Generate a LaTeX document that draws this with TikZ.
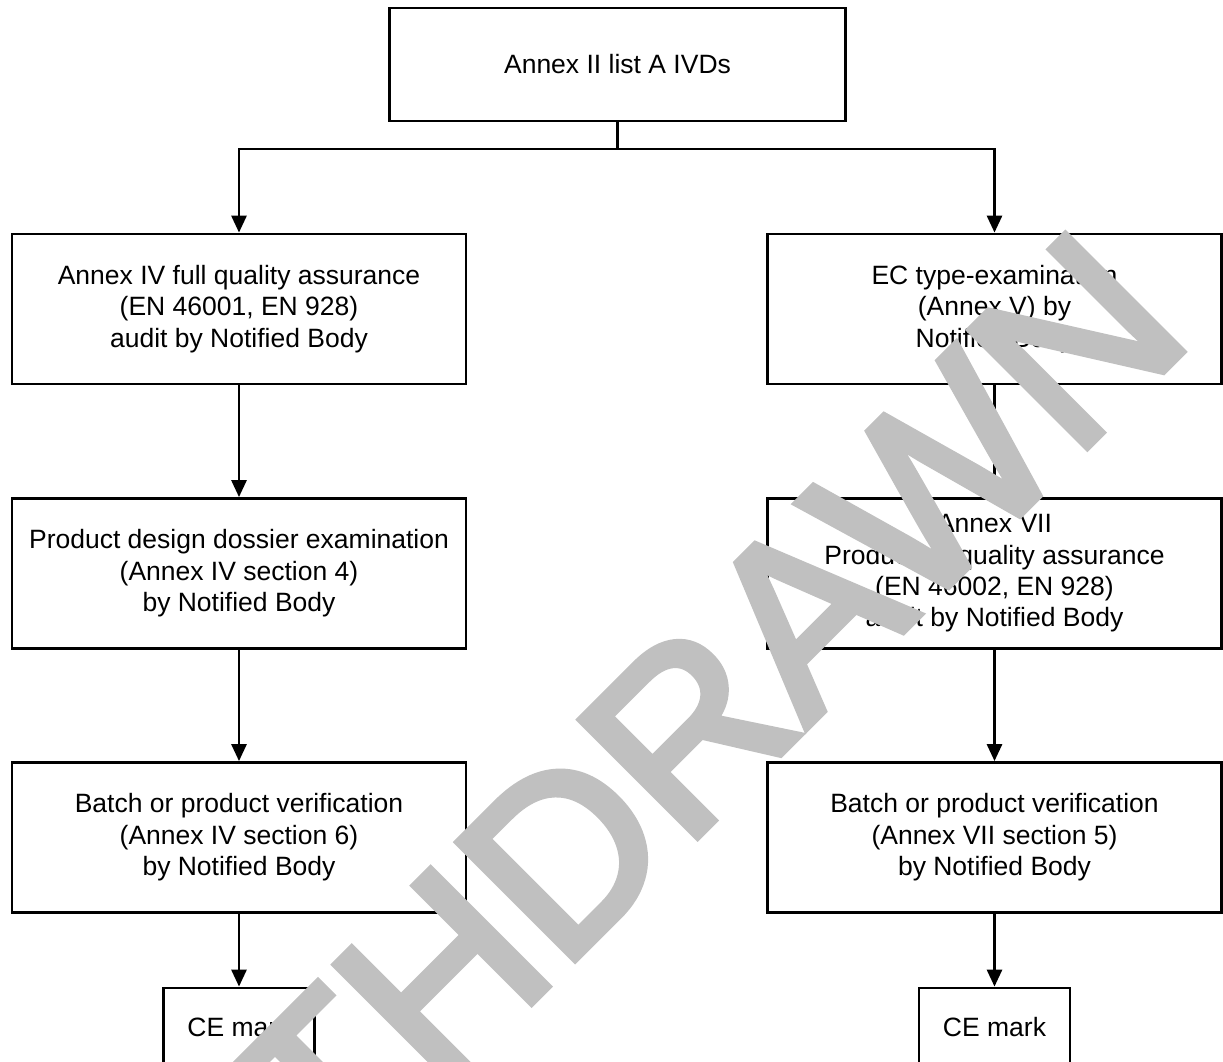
\documentclass[tikz,border=0pt]{standalone}
\usepackage{fontspec}
\setmainfont{Liberation Sans}
\newfontfamily\wmfont[FakeBold=3.3]{Liberation Sans}
\usetikzlibrary{arrows.meta}
\definecolor{wm}{RGB}{192,192,192}
\begin{document}
\begin{tikzpicture}[x=1pt,y=-1pt,
  box/.style={draw, line width=2.8pt, inner sep=0pt, align=center,
    font=\fontsize{26.5}{31.4}\selectfont},
  bigbox/.style={box, minimum width=454pt, minimum height=150pt},
  conn/.style={line width=2.8pt, -{Triangle[width=15pt,length=17pt]}},
  plain/.style={line width=2.8pt, line cap=rect}
  ]
\useasboundingbox (0,0) rectangle (1223,1061);
\fill[white] (0,0) rectangle (1223,1061);
\clip (0,0) rectangle (1223,1061);

\node[box, minimum width=456pt, minimum height=113pt] (top) at (617.5,64.5) {Annex II list A IVDs};

\node[bigbox] (l1) at (239,309) {Annex IV full quality assurance\\(EN 46001, EN 928)\\audit by Notified Body};
\node[bigbox] (l2) at (239,573.5) {Product design dossier examination\\(Annex IV section 4)\\by Notified Body};
\node[bigbox] (l3) at (239,837.5) {Batch or product verification\\(Annex IV section 6)\\by Notified Body};
\node[box, minimum width=151pt, minimum height=78pt] (cel) at (239,1027) {CE mark};

\node[bigbox] (r1) at (994.5,309) {EC type-examination\\(Annex V) by\\Notified Body};
\node[bigbox] (r2) at (994.5,573.5) {Annex VII\\Production quality assurance\\(EN 46002, EN 928)\\audit by Notified Body};
\node[bigbox] (r3) at (994.5,837.5) {Batch or product verification\\(Annex VII section 5)\\by Notified Body};
\node[box, minimum width=151pt, minimum height=78pt] (cer) at (994.5,1027) {CE mark};

\coordinate (jl) at (239,149);
\coordinate (jr) at (994.5,149);
\draw[plain] (top.south) -- (top.south |- jl);
\draw[plain] (jl) -- (jr);
\draw[conn] (jl) -- (l1.north);
\draw[conn] (jr) -- (r1.north);
\draw[conn] (l1) -- (l2);
\draw[conn] (l2) -- (l3);
\draw[conn] (l3) -- (cel);
\draw[conn] (r1) -- (r2);
\draw[conn] (r2) -- (r3);
\draw[conn] (r3) -- (cer);

\node[rotate=45, anchor=base west, inner sep=0pt, text=wm,
  font=\wmfont\fontsize{240}{240}\selectfont] (wmark) at (127.5,1406.5) {WITHDRAWN};
\end{tikzpicture}
\end{document}
